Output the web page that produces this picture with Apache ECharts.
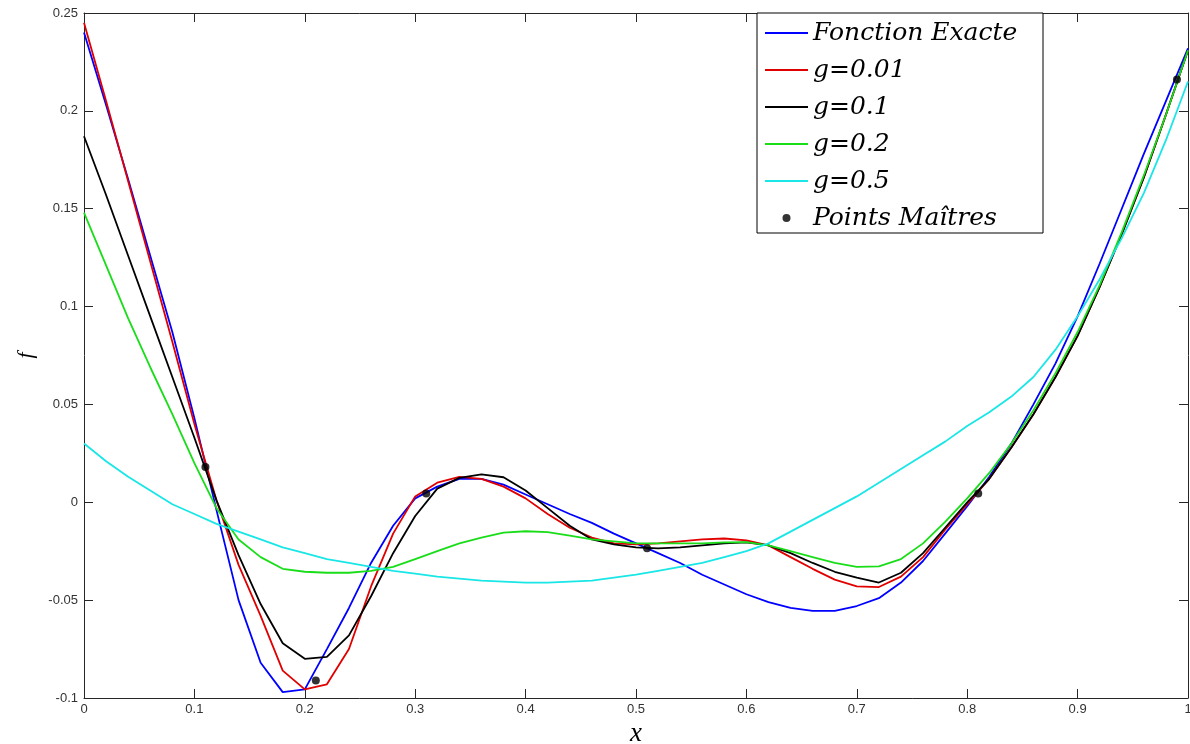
<!DOCTYPE html>
<html>
<head>
<meta charset="utf-8">
<script src="https://cdn.jsdelivr.net/npm/echarts@6/dist/echarts.min.js"></script>
<style>html,body{margin:0;padding:0;background:#fff}#c{width:1190px;height:744px}</style>
</head>
<body>
<div id="c"></div>
<script>
const xs = [0,0.02,0.04,0.06,0.08,0.1,0.12,0.14,0.16,0.18,0.2,0.22,0.24,0.26,0.28,0.3,0.32,0.34,0.36,0.38,0.4,0.42,0.44,0.46,0.48,0.5,0.52,0.54,0.56,0.58,0.6,0.62,0.64,0.66,0.68,0.7,0.72,0.74,0.76,0.78,0.8,0.82,0.84,0.86,0.88,0.9,0.92,0.94,0.96,0.98,1.0];
const exacte = [0.240,0.203,0.165,0.126,0.087,0.043,-0.004,-0.050,-0.082,-0.097,-0.0956,-0.075,-0.054,-0.031,-0.012,0.002,0.008,0.012,0.012,0.009,0.004,-0.001,-0.006,-0.0105,-0.016,-0.021,-0.026,-0.031,-0.037,-0.042,-0.047,-0.051,-0.054,-0.0555,-0.0555,-0.053,-0.049,-0.041,-0.030,-0.016,-0.002,0.013,0.030,0.050,0.071,0.095,0.122,0.150,0.178,0.205,0.232];
const g001 = [0.245,0.205,0.164,0.123,0.082,0.040,0.001,-0.032,-0.058,-0.086,-0.0956,-0.093,-0.075,-0.043,-0.016,0.003,0.010,0.013,0.012,0.008,0.002,-0.006,-0.013,-0.018,-0.021,-0.0215,-0.021,-0.020,-0.019,-0.0185,-0.0195,-0.022,-0.028,-0.034,-0.0395,-0.043,-0.0433,-0.038,-0.028,-0.014,-0.001,0.012,0.028,0.045,0.064,0.085,0.110,0.137,0.166,0.198,0.231];
const g01 = [0.187,0.157,0.126,0.095,0.064,0.033,0.001,-0.027,-0.052,-0.072,-0.080,-0.079,-0.068,-0.048,-0.026,-0.007,0.007,0.0125,0.0143,0.0128,0.006,-0.003,-0.012,-0.019,-0.0215,-0.023,-0.0235,-0.023,-0.022,-0.021,-0.0205,-0.022,-0.026,-0.031,-0.0355,-0.0385,-0.041,-0.036,-0.026,-0.013,0.000,0.012,0.028,0.045,0.064,0.085,0.110,0.137,0.166,0.198,0.231];
const g02 = [0.148,0.121,0.094,0.069,0.045,0.020,-0.003,-0.019,-0.028,-0.034,-0.0355,-0.036,-0.036,-0.035,-0.033,-0.029,-0.025,-0.021,-0.018,-0.0155,-0.0148,-0.0152,-0.017,-0.019,-0.020,-0.021,-0.021,-0.021,-0.021,-0.0205,-0.0204,-0.022,-0.025,-0.028,-0.031,-0.033,-0.0327,-0.029,-0.021,-0.010,0.002,0.015,0.030,0.047,0.066,0.087,0.111,0.138,0.167,0.198,0.231];
const g05 = [0.030,0.021,0.013,0.006,-0.001,-0.006,-0.011,-0.015,-0.019,-0.023,-0.026,-0.029,-0.031,-0.033,-0.035,-0.0365,-0.038,-0.039,-0.040,-0.0405,-0.041,-0.041,-0.0405,-0.040,-0.0385,-0.037,-0.035,-0.033,-0.031,-0.028,-0.025,-0.021,-0.015,-0.009,-0.003,0.003,0.010,0.017,0.024,0.031,0.039,0.046,0.054,0.064,0.078,0.095,0.114,0.135,0.158,0.185,0.215];
const masterX = [0.11,0.21,0.31,0.51,0.81,0.99];
const masterY = [0.018,-0.091,0.0045,-0.0235,0.0045,0.216];
const seriesNames = ['Fonction Exacte','g=0.01','g=0.1','g=0.2','g=0.5','Points Maîtres'];

const chart = echarts.init(document.getElementById('c'), null, {renderer:'canvas'});
const pairs = (xv, yv) => xv.map((x, i) => [x, yv[i]]);
const axisColor = '#262626';
const tickLabel = {color:'#333', fontSize:13, fontFamily:'Liberation Sans, Arial, sans-serif'};
const lineSeries = (name, data, color) => ({
  name, type:'line', data:pairs(xs, data), symbol:'none', showSymbol:false,
  lineStyle:{color, width:1.8}, itemStyle:{color}, z:2
});
const baseAxis = {
  type:'value', min:0, max:1, interval:0.1,
  axisLine:{show:true, onZero:false, lineStyle:{color:axisColor, width:1}},
  axisTick:{show:true, inside:true, length:9, lineStyle:{color:axisColor}},
  splitLine:{show:false}
};
const lineIcon = 'path://M0,0 L43,0 L43,1.8 L0,1.8 Z';
const option = {
  animation:false,
  backgroundColor:'#fff',
  grid:{left:84, right:2, top:13, bottom:46, containLabel:false, outerBoundsMode:'none'},
  xAxis:[
    Object.assign({}, baseAxis, {position:'bottom',
      axisLabel:Object.assign({margin:5}, tickLabel),
      name:'x', nameLocation:'middle', nameGap:22,
      nameTextStyle:{fontFamily:'Liberation Serif, Times New Roman, serif', fontStyle:'italic', fontSize:27, color:'#000'}}),
    Object.assign({}, baseAxis, {position:'top', axisLabel:{show:false}})
  ],
  yAxis:[
    Object.assign({}, baseAxis, {min:-0.1, max:0.25, interval:0.05, position:'left',
      axisLabel:Object.assign({margin:6}, tickLabel),
      name:'f', nameLocation:'middle', nameGap:42, nameRotate:90,
      nameTextStyle:{fontFamily:'Liberation Serif, Times New Roman, serif', fontStyle:'italic', fontSize:22, color:'#000'}}),
    Object.assign({}, baseAxis, {min:-0.1, max:0.25, interval:0.05, position:'right', axisLabel:{show:false}})
  ],
  legend:{
    orient:'vertical', left:757, top:13, padding:[5,3,0,8],
    itemWidth:43, itemHeight:8, itemGap:7,
    backgroundColor:'#fff', borderColor:'#000', borderWidth:1, borderRadius:0,
    selectedMode:false,
    textStyle:{fontFamily:'DejaVu Serif', fontStyle:'italic', fontSize:25, color:'#000', lineHeight:30, width:227},
    data:[
      {name:seriesNames[0], icon:lineIcon},
      {name:seriesNames[1], icon:lineIcon},
      {name:seriesNames[2], icon:lineIcon},
      {name:seriesNames[3], icon:lineIcon},
      {name:seriesNames[4], icon:lineIcon},
      {name:seriesNames[5], icon:'circle'}
    ]
  },
  series:[
    lineSeries(seriesNames[0], exacte, '#0000ff'),
    lineSeries(seriesNames[1], g001, '#e00000'),
    lineSeries(seriesNames[2], g01, '#000000'),
    lineSeries(seriesNames[3], g02, '#19dd19'),
    lineSeries(seriesNames[4], g05, '#19e6e6'),
    {name:seriesNames[5], type:'scatter', data:pairs(masterX, masterY), symbol:'circle', symbolSize:8,
     itemStyle:{color:'#000'}, z:5}
  ]
};
chart.setOption(option);
</script>
</body>
</html>
